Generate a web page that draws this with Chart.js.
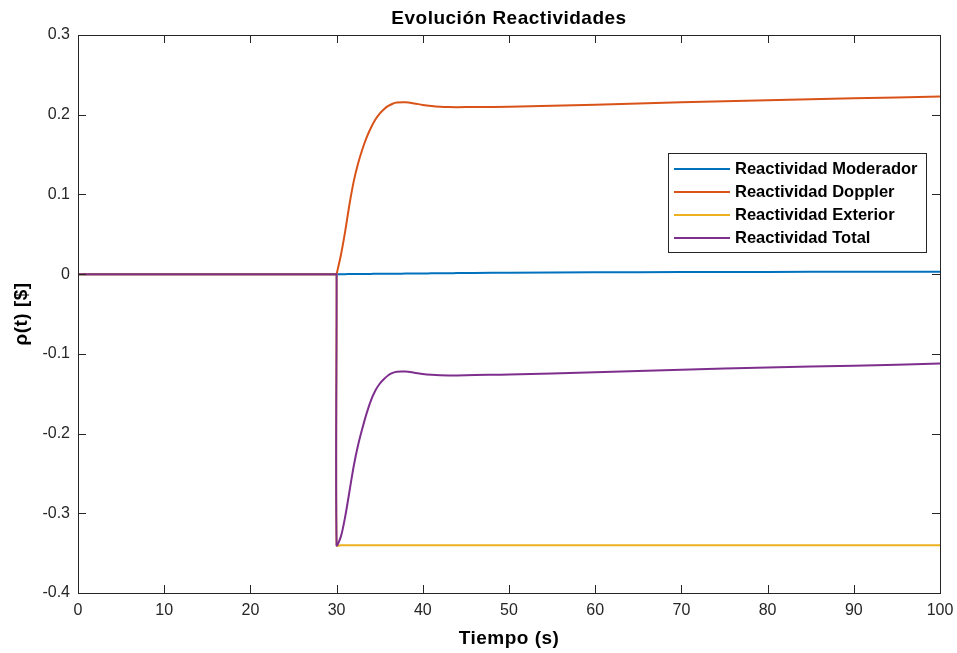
<!DOCTYPE html>
<html>
<head>
<meta charset="utf-8">
<script src="https://cdn.jsdelivr.net/npm/chart.js@4.4.1/dist/chart.umd.min.js"></script>
<style>
  html, body { margin: 0; padding: 0; background: #fff; }
  #wrap { width: 957px; height: 653px; position: relative; }
</style>
</head>
<body>
<div id="wrap"><canvas id="grafica"></canvas></div>
<script>
// tiempos de muestreo (s); el 30 aparece dos veces para el escalón
const tiempo = [0, 29.9, 30, 30, 30.5, 31, 31.5, 32, 32.5, 33, 33.5, 34, 34.5, 35, 35.5, 36, 36.5, 37, 38, 39, 40, 41, 42, 43, 44, 46, 50, 60, 70, 80, 90, 100];

const rhoModerador = [0, 0, 0, 0, 0, 0, 0.0001, 0.0001, 0.0002, 0.0002, 0.0003, 0.0003, 0.0004, 0.0004, 0.0005, 0.0005, 0.0006, 0.0006, 0.0007, 0.0008, 0.0009, 0.001, 0.0011, 0.0012, 0.0013, 0.0015, 0.0018, 0.0023, 0.0026, 0.0028, 0.0029, 0.003];
const rhoDoppler = [0, 0, 0, 0, 0.024, 0.054, 0.088, 0.117, 0.139, 0.157, 0.172, 0.184, 0.194, 0.2015, 0.207, 0.211, 0.2138, 0.2152, 0.2156, 0.2142, 0.2123, 0.211, 0.2101, 0.2096, 0.2095, 0.2097, 0.210, 0.2125, 0.2155, 0.218, 0.2205, 0.223];
const rhoExterior = [0, 0, 0, -0.34, -0.34, -0.34, -0.34, -0.34, -0.34, -0.34, -0.34, -0.34, -0.34, -0.34, -0.34, -0.34, -0.34, -0.34, -0.34, -0.34, -0.34, -0.34, -0.34, -0.34, -0.34, -0.34, -0.34, -0.34, -0.34, -0.34, -0.34, -0.34];
const rhoTotal = [0, 0, 0, -0.34, -0.329, -0.304, -0.272, -0.240, -0.214, -0.193, -0.174, -0.158, -0.146, -0.1375, -0.1315, -0.1268, -0.1238, -0.1223, -0.1222, -0.1236, -0.1252, -0.1262, -0.1268, -0.127, -0.127, -0.1265, -0.126, -0.123, -0.120, -0.117, -0.115, -0.112];

const nombres = ['Reactividad Moderador', 'Reactividad Doppler', 'Reactividad Exterior', 'Reactividad Total'];
const colores = ['#0072BD', '#D95319', '#EDB120', '#7E2F8E'];
const series = [rhoModerador, rhoDoppler, rhoExterior, rhoTotal];

const titulo = 'Evolución Reactividades';
const tituloX = 'Tiempo (s)';
const tituloY = 'ρ(t) [$]';

const fuente = '"Liberation Sans", Arial, sans-serif';

// caja del eje, marcas hacia dentro, títulos y leyenda al estilo matlab
const estiloMatlab = {
  id: 'estiloMatlab',
  afterDatasetsDraw(chart) {
    const ctx = chart.ctx;
    const a = chart.chartArea;
    const sx = chart.scales.x, sy = chart.scales.y;
    ctx.save();
    ctx.strokeStyle = '#262626';
    ctx.lineWidth = 1;
    ctx.strokeRect(a.left + 0.5, a.top + 0.5, a.right - a.left, a.bottom - a.top);
    ctx.beginPath();
    sx.ticks.forEach(t => {
      const px = Math.round(sx.getPixelForValue(t.value)) + 0.5;
      ctx.moveTo(px, a.bottom); ctx.lineTo(px, a.bottom - 8);
      ctx.moveTo(px, a.top); ctx.lineTo(px, a.top + 8);
    });
    sy.ticks.forEach(t => {
      const py = Math.round(sy.getPixelForValue(t.value)) + 0.5;
      ctx.moveTo(a.left, py); ctx.lineTo(a.left + 8, py);
      ctx.moveTo(a.right, py); ctx.lineTo(a.right - 8, py);
    });
    ctx.stroke();

    // títulos
    ctx.fillStyle = '#000';
    ctx.textAlign = 'center';
    ctx.textBaseline = 'middle';
    ctx.letterSpacing = '0.5px';
    ctx.font = 'bold 19px ' + fuente;
    ctx.fillText(titulo, (a.left + a.right) / 2, 19);
    ctx.fillText(tituloX, (a.left + a.right) / 2, 639);
    ctx.save();
    ctx.translate(22, (a.top + a.bottom) / 2);
    ctx.rotate(-Math.PI / 2);
    ctx.fillText(tituloY, 0, 0);
    ctx.restore();
    ctx.letterSpacing = '0px';

    // leyenda
    const lx = 668, ly = 153, lw = 258, lh = 99;
    ctx.fillStyle = '#fff';
    ctx.fillRect(lx, ly, lw, lh);
    ctx.strokeStyle = '#262626';
    ctx.strokeRect(lx + 0.5, ly + 0.5, lw, lh);
    ctx.font = 'bold 16.5px ' + fuente;
    ctx.textAlign = 'left';
    chart.data.datasets.forEach((ds, i) => {
      const y = ly + 16 + i * 23;
      ctx.strokeStyle = ds.borderColor;
      ctx.lineWidth = 2;
      ctx.beginPath();
      ctx.moveTo(lx + 6, y); ctx.lineTo(lx + 62, y);
      ctx.stroke();
      ctx.fillStyle = '#000';
      ctx.fillText(ds.label, lx + 67, y);
    });
    ctx.restore();
  }
};

const datasets = series.map((vals, i) => ({
  label: nombres[i],
  data: vals.map((v, k) => ({ x: tiempo[k], y: v })),
  borderColor: colores[i],
  backgroundColor: colores[i],
  borderWidth: 2,
  pointRadius: 0,
  tension: 0.3,
  order: 3 - i
}));

new Chart(document.getElementById('grafica'), {
  type: 'line',
  data: { datasets },
  options: {
    responsive: true,
    maintainAspectRatio: false,
    animation: false,
    layout: { padding: { top: 35, right: 17, left: 0, bottom: 0 } },
    plugins: { legend: { display: false }, tooltip: { enabled: false }, title: { display: false } },
    scales: {
      x: {
        type: 'linear', min: 0, max: 100,
        ticks: { stepSize: 10, color: '#262626', font: { family: fuente, size: 16 }, padding: 8, maxRotation: 0 },
        grid: { display: false, drawTicks: false },
        border: { display: false },
        afterFit: s => { s.height = 60; s.paddingLeft = 0; s.paddingRight = 0; }
      },
      y: {
        min: -0.4, max: 0.3,
        ticks: { stepSize: 0.1, color: '#262626', font: { family: fuente, size: 16 }, padding: 8,
                 callback: v => String(Math.round(v * 10) / 10) },
        grid: { display: false, drawTicks: false },
        border: { display: false },
        afterFit: s => { s.width = 78; s.paddingTop = 0; s.paddingBottom = 0; }
      }
    }
  },
  plugins: [estiloMatlab]
});
</script>
</body>
</html>
